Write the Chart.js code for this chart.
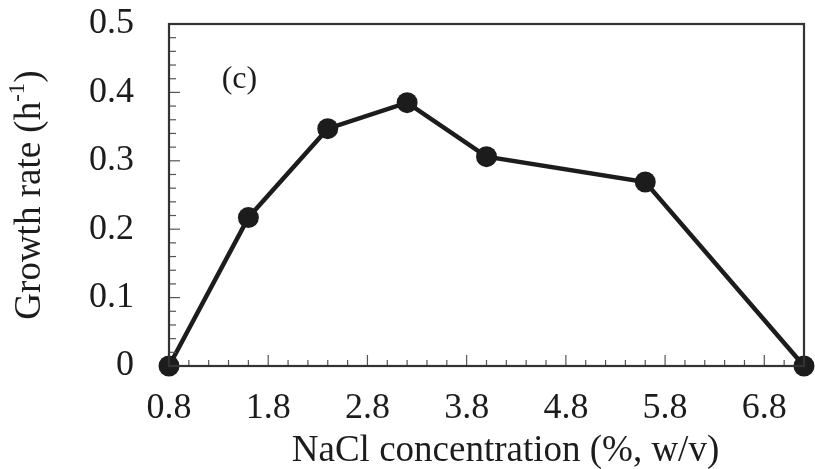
<!DOCTYPE html>
<html>
<head>
<meta charset="utf-8">
<script src="https://cdn.jsdelivr.net/npm/chart.js@4"></script>
<style>
  html, body { margin: 0; padding: 0; background: #fff; }
  #wrap { width: 815px; height: 469px; }
</style>
</head>
<body>
<div id="wrap"><canvas id="grafico" width="815" height="469"></canvas></div>
<script>
// dados
const nacl = [0.8, 1.6, 2.4, 3.2, 4.0, 5.6, 7.2];
const taxa = [0, 0.217, 0.347, 0.385, 0.306, 0.269, 0];
const xTicks = [0.8, 1.8, 2.8, 3.8, 4.8, 5.8, 6.8];
const yTicks = [0, 0.1, 0.2, 0.3, 0.4, 0.5];

const serif = '"Liberation Serif", "DejaVu Serif", serif';
const cor = '#1c1c1c';

// caixa do gráfico + marcas menores para dentro
const molduraPlugin = {
  id: 'moldura',
  afterDatasetsDraw(chart) {
    const ctx = chart.ctx;
    const a = chart.chartArea;
    const x = chart.scales.x, y = chart.scales.y;
    ctx.save();
    ctx.strokeStyle = '#555';
    ctx.lineWidth = 1.2;
    // marcas eixo x (0.2 em 0.2)
    for (let i = 0; i <= 32; i++) {
      const px = x.getPixelForValue(0.8 + i * 0.2);
      ctx.beginPath();
      ctx.moveTo(px, a.bottom);
      ctx.lineTo(px, a.bottom - (i % 5 === 0 ? 11 : 6));
      ctx.stroke();
    }
    // marcas eixo y (0.02 em 0.02)
    for (let i = 0; i <= 25; i++) {
      const py = y.getPixelForValue(i * 0.02);
      ctx.beginPath();
      ctx.moveTo(a.left, py);
      ctx.lineTo(a.left + (i % 5 === 0 ? 11 : 7), py);
      ctx.stroke();
    }
    ctx.strokeStyle = '#333';
    ctx.lineWidth = 2.2;
    ctx.strokeRect(a.left, a.top, a.right - a.left, a.bottom - a.top);
    ctx.restore();
  },
  afterDraw(chart) {
    const ctx = chart.ctx;
    const a = chart.chartArea;
    const x = chart.scales.x, y = chart.scales.y;
    ctx.save();
    ctx.fillStyle = cor;
    ctx.font = '32px ' + serif;
    ctx.textAlign = 'center';
    ctx.textBaseline = 'middle';
    ctx.fillText('(c)', x.getPixelForValue(1.51), y.getPixelForValue(0.418));
    // título do eixo x (um pouco deslocado à direita, como no original)
    ctx.font = '37px ' + serif;
    ctx.textBaseline = 'alphabetic';
    ctx.fillText('NaCl concentration (%, w/v)', (a.left + a.right) / 2 + 19, 461);
    // título do eixo y com sobrescrito
    const cx = 30, cy = (a.top + a.bottom) / 2;
    ctx.translate(cx, cy);
    ctx.rotate(-Math.PI / 2);
    ctx.textAlign = 'left';
    ctx.textBaseline = 'middle';
    const base = 'Growth rate (h';
    const sup = '-1';
    const fim = ')';
    ctx.font = '37px ' + serif;
    const w1 = ctx.measureText(base).width;
    const w3 = ctx.measureText(fim).width;
    ctx.font = '23px ' + serif;
    const w2 = ctx.measureText(sup).width;
    const total = w1 + w2 + w3;
    let p = -total / 2;
    ctx.font = '37px ' + serif;
    ctx.fillText(base, p, 0);
    p += w1;
    ctx.font = '23px ' + serif;
    ctx.fillText(sup, p, -12);
    p += w2;
    ctx.font = '37px ' + serif;
    ctx.fillText(fim, p, 0);
    ctx.restore();
  }
};

const ctx = document.getElementById('grafico').getContext('2d');
new Chart(ctx, {
  type: 'line',
  data: {
    datasets: [{
      data: nacl.map((v, i) => ({ x: v, y: taxa[i] })),
      borderColor: cor,
      backgroundColor: cor,
      borderWidth: 4.5,
      pointRadius: 10.5,
      pointHoverRadius: 10.5,
      pointBackgroundColor: cor,
      pointBorderWidth: 0,
      tension: 0,
      clip: false
    }]
  },
  options: {
    responsive: false,
    animation: false,
    layout: { padding: { top: 24, right: 11, left: 0, bottom: 0 } },
    plugins: { legend: { display: false }, tooltip: { enabled: false } },
    scales: {
      x: {
        type: 'linear',
        min: 0.8,
        max: 7.2,
        afterBuildTicks: (s) => { s.ticks = xTicks.map(v => ({ value: v })); },
        afterFit: (s) => { s.height = 103; s.paddingLeft = 0; s.paddingRight = 0; },
        grid: { display: false, drawTicks: false },
        border: { display: false },
        ticks: {
          color: cor,
          padding: 21,
          maxRotation: 0,
          font: { family: serif, size: 36 },
          callback: (v) => v.toFixed(1)
        },
        title: { display: false }
      },
      y: {
        min: 0,
        max: 0.5,
        afterBuildTicks: (s) => { s.ticks = yTicks.map(v => ({ value: v })); },
        afterFit: (s) => { s.width = 169; s.paddingTop = 0; s.paddingBottom = 0; },
        grid: { display: false, drawTicks: false },
        border: { display: false },
        ticks: {
          color: cor,
          padding: 35,
          font: { family: serif, size: 36 },
          callback: (v) => String(v)
        }
      }
    }
  },
  plugins: [molduraPlugin]
});
</script>
</body>
</html>
